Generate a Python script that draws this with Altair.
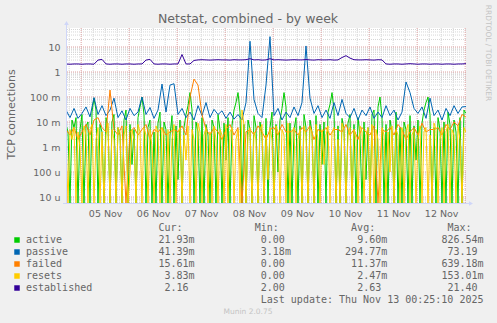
import altair as alt
import pandas as pd

# ---------------- data ----------------
T_START = "2025-11-04T16:25:00"
T_END = "2025-11-13T00:25:00"
times_2h = [t.strftime("%Y-%m-%dT%H:%M:%S") for t in pd.date_range(T_START, T_END, freq="2h")]
times_1h = [t.strftime("%Y-%m-%dT%H:%M:%S") for t in pd.date_range(T_START, T_END, freq="1h")]

# active connections (milli units, hourly), 0 = drop to bottom
active_m = [8, 4, 0, 12, 6, 15, 0, 5, 20, 0, 7, 10, 0, 25, 90, 30, 0, 8, 4, 0, 15, 6, 0, 10,
            20, 0, 6, 3, 0, 12, 30, 0, 8, 0.2, 5, 0, 15, 40, 100, 20, 0, 6, 12, 0, 4, 0, 9, 25,
            0, 10, 5, 0, 3, 18, 0, 7, 0.05, 12, 0, 6, 20, 45, 150, 30, 0, 10, 4, 0, 15, 0, 8, 3,
            0, 12, 6, 0, 20, 5, 0, 9, 0.3, 15, 0, 7, 30, 60, 150, 25, 0, 8, 0, 12, 5, 0, 18, 6,
            0, 10, 3, 0, 14, 0, 6, 25, 0, 8, 0.1, 12, 35, 150, 40, 0, 9, 0, 5, 15, 0, 7, 0, 20,
            6, 0, 12, 4, 0, 18, 0, 8, 0.2, 10, 0, 25, 50, 150, 30, 0, 7, 0, 14, 5, 0, 9, 20, 0,
            8, 0, 15, 3, 0, 10, 0.05, 6, 0, 20, 30, 0, 40, 100, 15, 0, 8, 0, 12, 4, 0, 25, 0, 6,
            0, 10, 5, 0, 18, 0, 7, 0.3, 12, 0, 9, 30, 60, 100, 20, 0, 6, 0, 15, 5, 0, 10, 0, 25,
            8, 0, 12, 4, 0, 15, 0, 30, 21.93]

# resets (milli units, hourly)
resets_m = [3, 0, 5, 2, 6, 0, 4, 1, 0, 7, 3, 0, 5, 8, 0, 2, 6, 0, 4, 0, 3, 9, 0, 5,
            2, 0, 6, 4, 0, 3, 7, 0, 0.1, 5, 2, 0, 8, 4, 0, 6, 3, 0, 5, 1, 0, 7, 4, 0,
            6, 3, 0, 5, 0, 2, 8, 0, 4, 6, 0, 3, 0.3, 7, 0, 5, 2, 0, 9, 4, 0, 3, 6, 0,
            4, 0, 7, 2, 0, 5, 3, 0, 8, 0, 4, 6, 0, 2, 5, 0, 30, 8, 0, 3, 6, 0, 4, 2,
            0, 5, 8, 0, 3, 0.05, 6, 2, 0, 7, 4, 0, 5, 3, 0, 9, 0, 4, 6, 0, 2, 5, 0, 7,
            3, 0, 6, 4, 0, 8, 2, 0, 5, 0.2, 3, 7, 0, 4, 6, 0, 2, 0, 9, 5, 0, 3, 6, 0,
            5, 2, 0, 7, 4, 0, 3, 6, 0, 8, 0, 5, 2, 0, 6, 3, 0, 4, 0.1, 7, 0, 5, 3, 0,
            6, 0, 4, 8, 0, 3, 5, 0, 2, 7, 0, 4, 6, 0, 3, 0, 9, 5, 0, 2, 6, 0, 4, 8,
            0, 5, 3, 0, 7, 2, 0, 6, 3.83]

# passive connections (milli units, 2-hourly)
passive_m = [30, 15, 35, 14, 22, 40, 16, 95, 20, 45,
             18, 30, 90, 15, 28, 12, 35, 18, 25, 100,
             20, 38, 14, 30, 330, 25, 300, 340, 20, 35,
             15, 25, 12, 45, 18, 60, 15, 32, 20, 28,
             14, 25, 13, 20, 12, 60, 17000, 80, 22, 15,
             300, 26000, 18, 35, 12, 25, 15, 40, 18, 60,
             11000, 90, 22, 45, 15, 30, 14, 60, 18, 80,
             22, 15, 35, 12, 30, 18, 40, 14, 25, 15,
             45, 18, 30, 12, 25, 400, 150, 35, 22, 40,
             14, 90, 18, 30, 12, 35, 18, 45, 22, 40,
             41.39]

# failed connections (milli units, 2-hourly)
failed_m = [5, 3, 6, 2, 4, 8, 3, 12, 15, 6,
            4, 190, 5, 3, 7, 0, 4, 6, 3, 5,
            8, 2, 5, 4, 6, 3, 4, 5, 4, 7,
            3, 100, 520, 300, 20, 5, 3, 6, 4, 2,
            5, 8, 3, 6, 0, 4, 5, 3, 7, 4,
            2, 5, 6, 3, 8, 4, 4, 5, 3, 6,
            4, 7, 2, 5, 4, 6, 3, 5, 5, 4,
            8, 3, 5, 2, 6, 4, 3, 7, 0, 5,
            4, 6, 3, 8, 5, 2, 4, 6, 3, 9,
            4, 5, 5, 6, 3, 8, 5, 10, 7, 20,
            15.61]

# established connections (units, 2-hourly)
established = [2.1, 2.05, 2.1, 2.1, 2.05, 2.1, 2.1, 2.05,
               3.0, 3.2,
               2.1, 2.05, 2.1, 2.1, 2.05, 2.1, 2.1, 2.05, 2.1, 2.1,
               3.0, 3.2,
               2.1, 2.05, 2.1, 2.1, 2.05, 2.1, 2.1,
               5.0,
               2.1, 2.1,
               2.9, 3.05, 3.1, 3.05, 3.0, 3.05, 3.1, 3.05, 3.05, 3.0, 3.1, 3.05, 3.05, 3.1,
               3.4,
               3.05, 3.1, 3.0, 3.05,
               3.4,
               3.05, 3.1, 3.05, 3.0, 3.05, 3.1, 3.05, 3.05, 3.15, 3.05, 3.0, 3.1, 3.05, 3.05, 3.1, 3.0, 3.05,
               3.8, 4.5, 3.6,
               3.1, 3.05, 3.05, 3.1, 3.05, 3.0, 3.1, 3.05,
               2.1, 2.05, 2.1, 2.1, 2.05, 2.1, 2.15, 2.1, 2.05, 2.1, 2.1,
               2.05, 2.1, 2.1, 2.05, 2.1, 2.1, 2.05, 2.1, 2.1, 2.16]

series_names = ["active", "passive", "failed", "resets", "established"]
series_colors = ["#00CC00", "#0066B3", "#FF8000", "#FFCC00", "#330099"]
cur_vals = ["21.93m", "41.39m", "15.61m", "3.83m", "2.16"]
min_vals = ["0.00", "3.18m", "0.00", "0.00", "2.00"]
avg_vals = ["9.60m", "294.77m", "11.37m", "2.47m", "2.63"]
max_vals = ["826.54m", "73.19", "639.18m", "153.01m", "21.40"]
stat_headers = ["Cur:", "Min:", "Avg:", "Max:"]

title_text = "Netstat, combined - by week"
y_title = "TCP connections"
last_update = "Last update: Thu Nov 13 00:25:10 2025"
munin_text = "Munin 2.0.75"
rrd_text = "RRDTOOL / TOBI OETIKER"

decades = [1e-5, 1e-4, 1e-3, 1e-2, 1e-1, 1, 10]
day_midnights = [f"2025-11-{d:02d}T00:00:00" for d in range(5, 14)]
label_days = [alt.DateTime(year=2025, month=11, date=d, hours=12) for d in range(5, 13)]

# ---------------- helpers ----------------
FONT = "DejaVu Sans"
MONO = "DejaVu Sans Mono"
TXT = "#666666"
NB = "\u00a0"
FLOOR = 1e-9
CW = 6.02  # monospace char width at 10px

Y_MIN, Y_MAX = 10 ** -5.24, 10 ** 1.76
yscale = alt.Scale(type="log", domain=[Y_MIN, Y_MAX], clamp=True, nice=False)
xscale = alt.Scale(domain=[alt.DateTime(year=2025, month=11, date=4, hours=16, minutes=25),
                           alt.DateTime(year=2025, month=11, date=13, hours=0, minutes=25)],
                   nice=False)

YAXIS = alt.Axis(
    values=decades,
    labelExpr=("datum.value >= 1 ? format(datum.value, 'd') + '" + NB + NB + "' : "
               "(datum.value >= 0.001 ? format(datum.value * 1000, 'd') + ' m' : "
               "format(datum.value * 1000000, 'd') + ' u')"),
    ticks=False, domain=False, grid=False, title=None,
    labelFont=FONT, labelFontSize=9.5, labelColor=TXT,
    labelPadding=6, labelOverlap=False, labelBaseline="middle")
XAXIS = alt.Axis(
    values=label_days, format="%d %b", ticks=False, domain=False, grid=False,
    title=None, labelFont=FONT, labelFontSize=9.5, labelColor=TXT,
    labelPadding=5, labelOverlap=False, labelFlush=False)


def X(field="t"):
    return alt.X(f"{field}:T", scale=xscale, axis=XAXIS)


def Y(field="v"):
    return alt.Y(f"{field}:Q", scale=yscale, axis=YAXIS)


minor_h = [k * 10 ** e for e in range(-6, 2) for k in range(2, 10) if Y_MIN < k * 10 ** e < Y_MAX]
minor_v = [t.strftime("%Y-%m-%dT%H:%M:%S")
           for t in pd.date_range("2025-11-04T18:00:00", "2025-11-12T18:00:00", freq="6h")
           if t.hour != 0]

MINOR_C = "#D6D6D6"
MAJOR_C = "#DDA0A0"

layers = []

# plot-area grid
layers.append(alt.Chart(pd.DataFrame({"v": minor_h})).mark_rule(
    color=MINOR_C, strokeDash=[1, 1], strokeWidth=1).encode(y=Y()))
layers.append(alt.Chart(pd.DataFrame({"t": minor_v})).mark_rule(
    color=MINOR_C, strokeDash=[1, 1], strokeWidth=1).encode(x=X()))
layers.append(alt.Chart(pd.DataFrame({"v": decades})).mark_rule(
    color=MAJOR_C, strokeDash=[1, 1], strokeWidth=1).encode(y=Y()))
layers.append(alt.Chart(pd.DataFrame({"t": day_midnights})).mark_rule(
    color=MAJOR_C, strokeDash=[1, 1], strokeWidth=1).encode(x=X()))

# data lines (drawn in Munin's order)
series_values = [(active_m, 1e-3, times_1h), (passive_m, 1e-3, times_2h), (failed_m, 1e-3, times_2h),
                 (resets_m, 1e-3, times_1h), (established, 1.0, times_2h)]
for (vals, mult, tt), col in zip(series_values, series_colors):
    df = pd.DataFrame({"t": tt, "v": [max(v * mult, FLOOR) for v in vals]})
    layers.append(alt.Chart(df).mark_line(color=col, strokeWidth=1, clip=True).encode(x=X(), y=Y()))

AX = "#CFD6F8"
# axis lines and arrows
layers.append(alt.Chart(pd.DataFrame({"a": [0]})).mark_rule(color=AX, strokeWidth=1).encode(
    x=alt.value(0.5), y=alt.value(176), y2=alt.value(-3)))
layers.append(alt.Chart(pd.DataFrame({"a": [0]})).mark_rule(color=AX, strokeWidth=1).encode(
    x=alt.value(-3), x2=alt.value(404), y=alt.value(175.5)))
layers.append(alt.Chart(pd.DataFrame({"a": [0]})).mark_point(
    shape="triangle-up", filled=True, color=AX, size=22, opacity=1).encode(
    x=alt.value(0.5), y=alt.value(-5)))
layers.append(alt.Chart(pd.DataFrame({"a": [0]})).mark_point(
    shape="triangle-right", filled=True, color=AX, size=22, opacity=1).encode(
    x=alt.value(405), y=alt.value(175.5)))


def text_layer(s, x, y, **kw):
    return alt.Chart(pd.DataFrame({"s": [s]})).mark_text(**kw).encode(
        text="s:N", x=alt.value(x), y=alt.value(y))


OX, OY = 66, 28  # plot origin on the page

layers.append(text_layer(title_text, 248 - OX, 19 - OY, font=FONT, fontSize=12.5,
                         color=TXT, align="center", baseline="middle"))
layers.append(text_layer(y_title, 12 - OX, 114.5 - OY, font=FONT, fontSize=11,
                         color=TXT, align="center", baseline="middle", angle=270))
layers.append(text_layer(rrd_text, 488 - OX, 53 - OY, font=FONT, fontSize=7.5,
                         color="#C4C4C4", align="center", baseline="middle", angle=90))
layers.append(text_layer(munin_text, 248 - OX, 311.5 - OY, font=FONT, fontSize=7.5,
                         color="#C4C4C4", align="center", baseline="middle"))


# legend table (monospace)
def cell(v):
    s = v if v.endswith("m") else v + NB
    return s.rjust(16).replace(" ", NB)


header = (NB * 12).join(stat_headers)
layers.append(text_layer(header, 26 + 22 * CW - OX, 228 - OY, font=MONO, fontSize=10,
                         color=TXT, align="left", baseline="middle"))
for k, name in enumerate(series_names):
    row_y = 240 + 12 * k - OY
    row = (name.ljust(12).replace(" ", NB) + cell(cur_vals[k]) + cell(min_vals[k])
           + cell(avg_vals[k]) + cell(max_vals[k]))
    layers.append(text_layer(row, 26 - OX, row_y, font=MONO, fontSize=10,
                             color=TXT, align="left", baseline="middle"))
    layers.append(alt.Chart(pd.DataFrame({"a": [0]})).mark_point(
        shape="square", filled=True, color=series_colors[k], size=30, opacity=1).encode(
        x=alt.value(17 - OX), y=alt.value(row_y)))
layers.append(text_layer(last_update, 483.5 - OX, 300 - OY, font=MONO, fontSize=10,
                         color=TXT, align="right", baseline="middle"))

chart = alt.layer(*layers).properties(
    width=400, height=175,
    padding={"left": OX, "right": 497 - OX - 400, "top": OY, "bottom": 323 - OY - 175},
    autosize=alt.AutoSizeParams(type="none"),
    background="#F0F0F0",
).configure_view(stroke=None, fill="white")

chart.save("out.html", embed_options={"renderer": "svg", "actions": False})
